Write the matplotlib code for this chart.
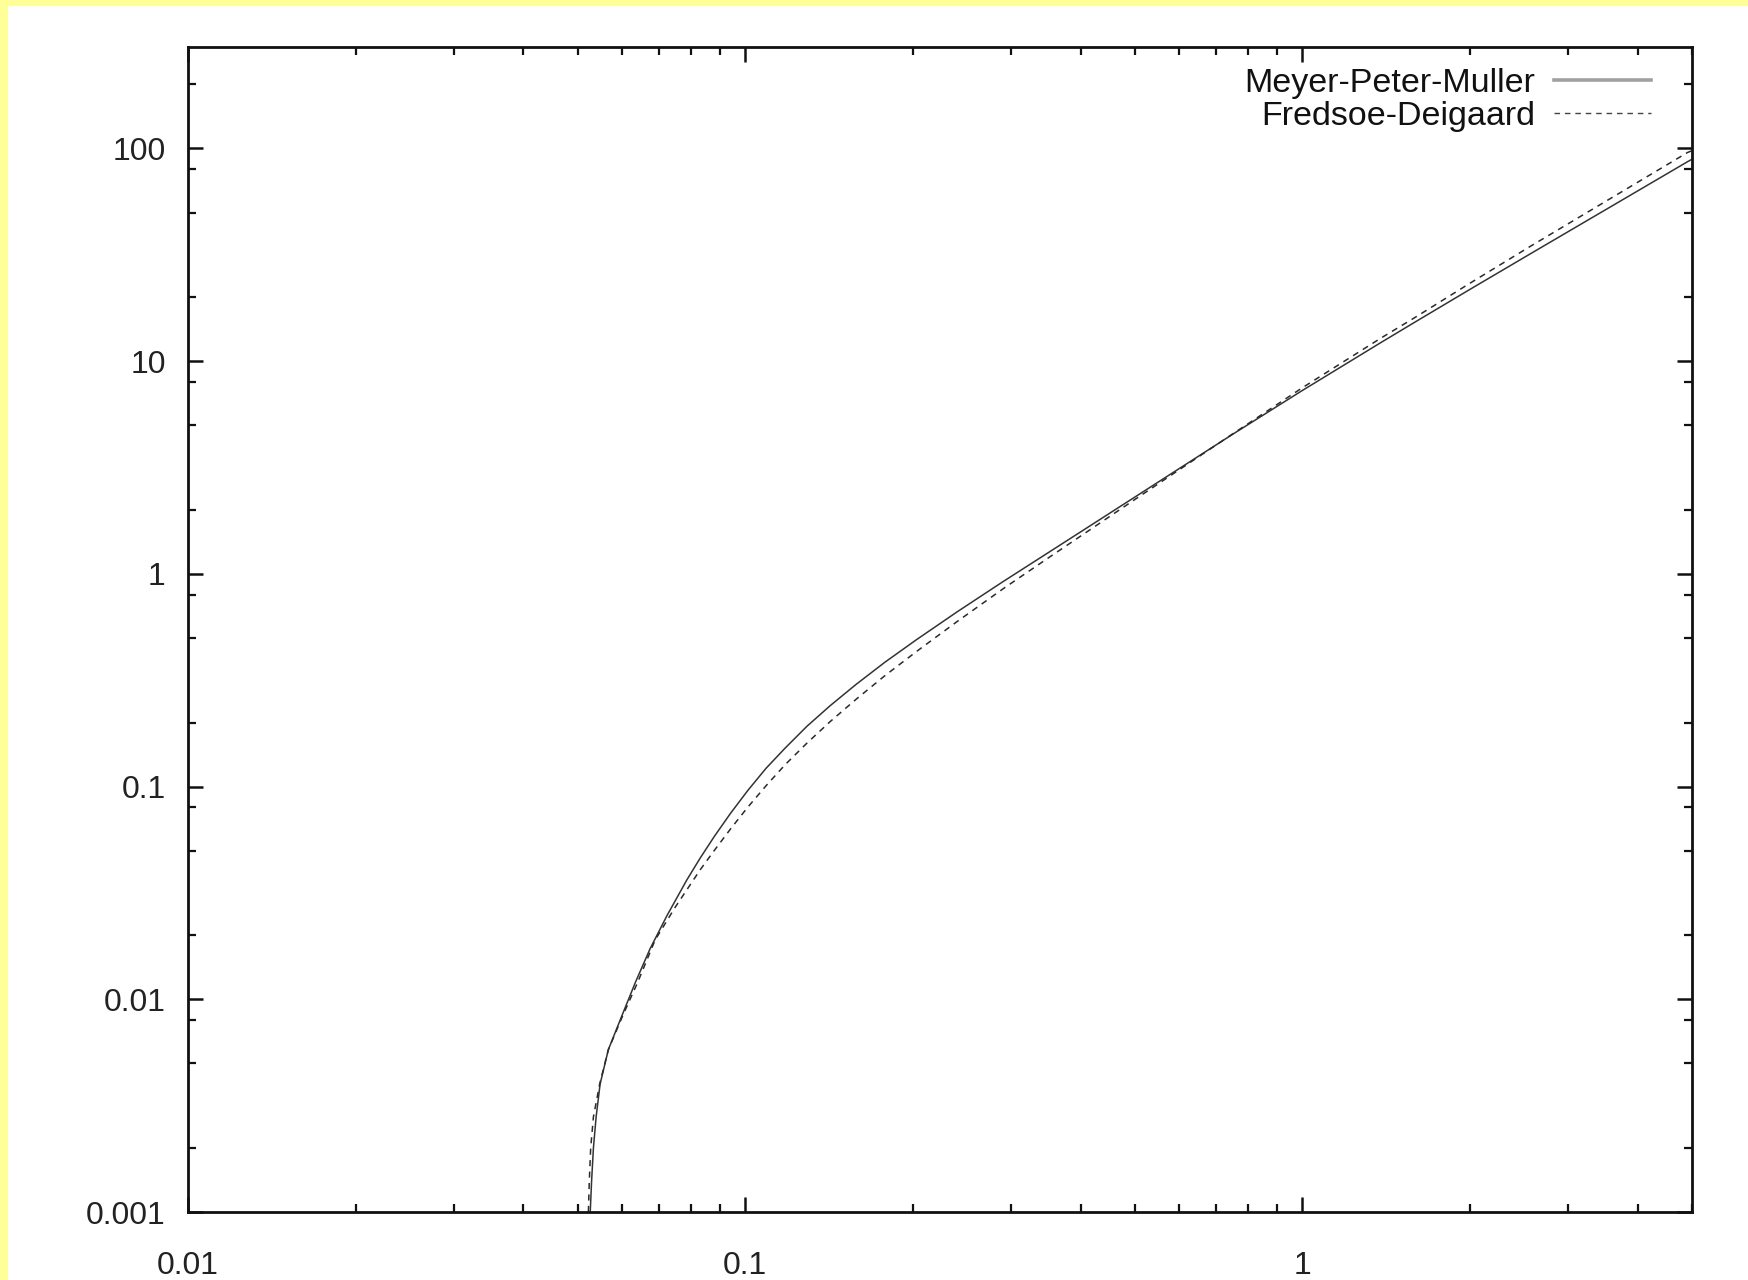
import matplotlib
matplotlib.use("Agg")
import matplotlib.pyplot as plt
from matplotlib.lines import Line2D
from matplotlib.patches import Rectangle
from matplotlib.ticker import LogLocator, FixedLocator, FixedFormatter, NullFormatter

# values (Shields parameter vs transport rate)
mpm_theta = [0.0527, 0.0530, 0.0534, 0.0540, 0.0549, 0.0568, 0.0601, 0.0635, 0.0675,
             0.0724, 0.0786, 0.0830, 0.0880, 0.0940, 0.1010, 0.1090, 0.1180, 0.1290,
             0.1420, 0.1580, 0.1780, 0.2030, 0.2400, 0.2900, 0.3500, 0.498, 0.752,
             1.0, 1.38, 1.607, 2.0, 2.565, 4.91, 5.0]
mpm_q = [0.0010, 0.0014, 0.0020, 0.0028, 0.0040, 0.0058, 0.0084, 0.0120, 0.0173,
         0.0248, 0.0365, 0.0461, 0.0583, 0.0746, 0.0957, 0.122, 0.152, 0.192,
         0.240, 0.302, 0.384, 0.491, 0.663, 0.919, 1.26, 2.28, 4.56,
         7.29, 12.2, 15.5, 21.8, 32.0, 86.7, 89.0]

fd_theta = [0.0523, 0.0525, 0.0528, 0.0534, 0.0548, 0.0568, 0.0603, 0.0641, 0.0689,
            0.0748, 0.0830, 0.0880, 0.0940, 0.1010, 0.1090, 0.1180, 0.1290, 0.1420,
            0.1580, 0.1780, 0.2030, 0.2400, 0.2900, 0.3500, 0.498, 0.752,
            1.0, 1.38, 1.607, 2.0, 2.565, 4.91, 5.0]
fd_q = [0.0010, 0.0014, 0.0020, 0.0028, 0.0040, 0.0058, 0.0084, 0.0120, 0.0190,
        0.0270, 0.0406, 0.0501, 0.0630, 0.0799, 0.101, 0.127, 0.160, 0.202,
        0.257, 0.332, 0.432, 0.597, 0.850, 1.19, 2.22, 4.58,
        7.51, 12.8, 16.3, 23.3, 34.7, 95.8, 97.6]

labels = ["Meyer-Peter-Muller", "Fredsoe-Deigaard"]
xticks = [0.01, 0.1, 1]
xtick_labels = ["0.01", "0.1", "1"]
yticks = [0.001, 0.01, 0.1, 1, 10, 100]
ytick_labels = ["0.001", "0.01", "0.1", "1", "10", "100"]

W, H = 1749, 1280
plt.rcParams['font.family'] = ['Liberation Sans', 'DejaVu Sans']

fig = plt.figure(figsize=(W / 100, H / 100), dpi=100)
fig.patch.set_facecolor("white")
# yellow slide edge on the left and top
fig.patches.append(Rectangle((0, 0), 7 / W, 1, transform=fig.transFigure,
                             color="#ffff99", zorder=0))
fig.patches.append(Rectangle((0, 1 - 5 / H), 1, 5 / H, transform=fig.transFigure,
                             color="#ffff99", zorder=0))

ax = fig.add_axes([188 / W, 1 - 1212 / H, (1692 - 188) / W, (1212 - 47) / H])
ax.set_xscale("log")
ax.set_yscale("log")
ax.set_xlim(0.01, 5)
ax.set_ylim(0.001, 300)

ax.plot(mpm_theta, mpm_q, color="#333333", lw=1.1, solid_joinstyle="round")
ax.plot(fd_theta, fd_q, color="#2a2a2a", lw=1.1, linestyle=(0, (4, 3.5)))

ax.xaxis.set_major_locator(FixedLocator(xticks))
ax.xaxis.set_major_formatter(FixedFormatter(xtick_labels))
ax.xaxis.set_minor_locator(LogLocator(base=10, subs=(2, 3, 4, 5, 6, 7, 8, 9)))
ax.xaxis.set_minor_formatter(NullFormatter())
ax.yaxis.set_major_locator(FixedLocator(yticks))
ax.yaxis.set_major_formatter(FixedFormatter(ytick_labels))
ax.yaxis.set_minor_locator(LogLocator(base=10, subs=(2, 5, 8)))
ax.yaxis.set_minor_formatter(NullFormatter())

for s in ax.spines.values():
    s.set_linewidth(2.0)
    s.set_color("#111111")
ax.tick_params(which="both", direction="in", top=True, right=True, color="#111111",
               labelsize=23, labelcolor="#222222")
ax.tick_params(which="major", length=11, width=1.8)
ax.tick_params(which="minor", length=6, width=1.6)
ax.tick_params(axis="x", which="major", pad=28)
ax.tick_params(axis="y", which="major", pad=16)

handles = [Line2D([], [], color="#a0a0a0", lw=2.6),
           Line2D([], [], color="#444444", lw=1.0, linestyle=(0, (4, 3.5)))]
ax.legend(handles, labels, loc="upper right", bbox_to_anchor=(0.9727, 0.982),
          markerfirst=False, frameon=False, fontsize=24.5, handlelength=2.85,
          handletextpad=0.55, borderaxespad=0, borderpad=0, labelspacing=0.05,
          labelcolor="#111111")

fig.savefig("out.png", dpi=100)
